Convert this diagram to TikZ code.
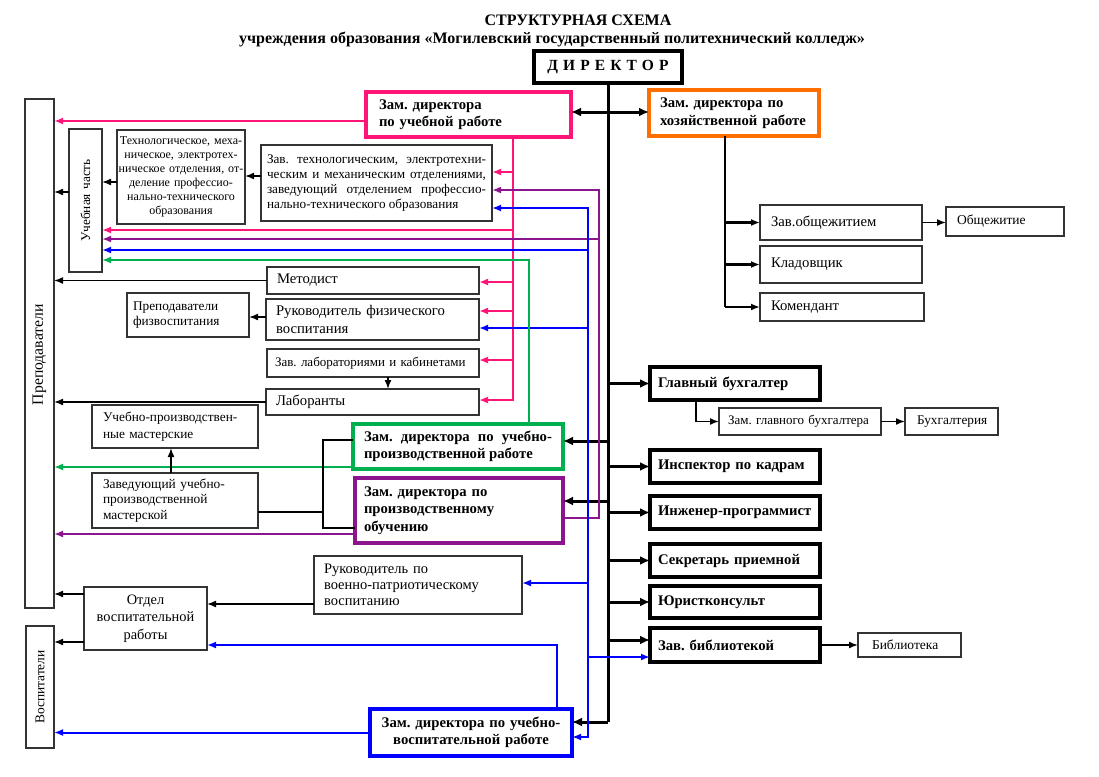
\documentclass[tikz,border=0pt]{standalone}
\usepackage{fontspec}
\setmainfont{Liberation Serif}
\usetikzlibrary{arrows.meta}

\newcommand{\fsz}[2]{\fontsize{#1}{#2}\selectfont}
\definecolor{pinkc}{RGB}{255,20,120}
\definecolor{orangec}{RGB}{255,110,0}
\definecolor{greenc}{RGB}{0,176,80}
\definecolor{purplec}{RGB}{140,20,140}
\definecolor{bluec}{RGB}{0,0,255}
\hyphenpenalty=10000
\exhyphenpenalty=10000

\begin{document}
\frenchspacing
\begin{tikzpicture}[
    x=1pt, y=-1pt,
    >={Latex[length=9pt, width=7pt]},
    % Styles
    unit/.style={ % ordinary box
        rectangle,
        draw=black!80,
        line width=1.3pt,
        anchor=north west,
        inner ysep=0pt,
        outer sep=0pt,
        align=left,
        font=\fsz{14.7}{17.5}
    },
    head/.style={ % deputy or service, bold frame
        unit,
        draw=black,
        line width=3.5pt,
        font=\bfseries\fsz{14.7}{17.5}
    },
    size/.style n args={3}{ % width, height, side padding
        minimum width=#1pt,
        minimum height=#2pt,
        inner xsep=#3pt,
        text width=#1pt-2*#3pt
    },
    link/.style={ % thin black connector
        line width=1.6pt
    },
    arrow/.style={
        link,
        ->
    },
    trunk/.style={ % thick connector from the director
        line width=3pt,
        -{Latex[length=10pt, width=9pt]}
    },
    colored/.style={
        line width=2pt,
        draw=#1,
        ->
    }
]
    \useasboundingbox (0,0) rectangle (1099,776);

    % Title
    \node[font=\bfseries\fsz{16}{19}] (title) at (578,20) {СТРУКТУРНАЯ СХЕМА};
    \node[font=\bfseries\fsz{16}{19}] (subtitle) at (552,40)
        {учреждения образования «Могилевский государственный политехнический колледж»};

    % Director and deputies
    \node[head, size={148}{32}{4}, align=center, font=\bfseries\fsz{15.5}{18}] (director) at (534,51)
        {\addfontfeature{LetterSpace=33}ДИРЕКТОР};
    \node[head, draw=pinkc, size={205}{45}{13}] (zamUch) at (366,92) {Зам. директора\\по учебной работе};
    \node[head, draw=orangec, size={170}{46}{11}] (zamHoz) at (649,90) {Зам. директора по\\хозяйственной работе};
    \node[head, draw=greenc, size={210}{45}{11}, align=justify] (zamUchPr) at (353,424)
        {Зам. директора по учебно-\linebreak производственной работе};
    \node[head, draw=purplec, size={208}{65}{9}] (zamPrOb) at (355,478) {Зам. директора по\\производственному\\обучению};
    \node[head, draw=bluec, size={202}{47}{4}, align=center] (zamVosp) at (370,709) {Зам. директора по учебно-\\воспитательной работе};

    % Services under the director
    \foreach \n/\y/\h/\t in {glavBuh/367/33/Главный бухгалтер, kadry/450/33/Инспектор по кадрам,
            programmer/496/33/Инженер-программист, sekretar/544/33/Секретарь приемной,
            yurist/586/32/Юристконсульт, bibZav/628/34/Зав. библиотекой} {
        \node[head, size={170}{\h}{8}] (\n) at (650,\y) {\t};
    }

    % Household part
    \node[unit, size={162}{35}{11}] (obshZav) at (760,205) {Зав.общежитием};
    \node[unit, size={118}{29}{11}, font=\fsz{13.5}{16}] (obsh) at (946,207) {Общежитие};
    \node[unit, size={162}{37}{11}] (klad) at (760,246) {Кладовщик};
    \node[unit, size={164}{28}{11}] (koment) at (760,293) {Комендант};
    \node[unit, size={162}{27}{9}, font=\fsz{13}{15}] (zamBuh) at (719,408) {Зам. главного бухгалтера};
    \node[unit, size={93}{27}{12}, font=\fsz{13.3}{16}] (buh) at (905,408) {Бухгалтерия};
    \node[unit, size={103}{24}{14}, font=\fsz{13.5}{16}] (bib) at (858,633) {Библиотека};

    % Teaching part
    \node[unit, rotate=90, size={509}{29}{10}, font=\fsz{15.7}{18}] (prep) at (25,608) {\hspace*{193pt}Преподаватели};
    \node[unit, rotate=90, size={122}{28}{4}, align=center, font=\fsz{13.4}{16}] (vosp) at (26,748) {Воспитатели};
    \node[unit, rotate=90, size={143}{33}{4}, align=center, font=\fsz{13.3}{16}] (uchChast) at (69,272) {Учебная часть};
    \node[unit, size={128}{94}{1.5}, align=center, font=\fsz{12}{14}] (otdel) at (117,130)
        {Технологическое, меха-\\ническое, электротех-\\ническое отделения, от-\\деление профессио-\\нально-технического\\образования};
    \node[unit, size={231}{76}{6}, align=justify, font=\fsz{13.2}{15}] (zavOtd) at (261,145)
        {Зав. технологическим, электротехни-\linebreak ческим и механическим отделениями,\linebreak
         заведующий отделением профессио-\linebreak нально-технического образования};
    \node[unit, size={212}{27}{10}] (metodist) at (267,267) {Методист};
    \node[unit, size={122}{44}{6}, font=\fsz{13.3}{15}] (prepFiz) at (127,293) {Преподаватели\\физвоспитания};
    \node[unit, size={213}{41}{10}] (rukFiz) at (266,299) {Руководитель физического\\воспитания};
    \node[unit, size={212}{28}{8}, font=\fsz{13}{15}] (zavLab) at (267,349) {Зав. лабораториями и кабинетами};
    \node[unit, size={213}{26}{10}] (laborant) at (266,389) {Лаборанты};
    \node[unit, size={166}{43}{11}, font=\fsz{13.3}{17}] (masterskie) at (92,405) {Учебно-производствен-\\ные мастерские};
    \node[unit, size={166}{55}{11}, font=\fsz{13.4}{15.5}] (zavMaster) at (92,473) {Заведующий учебно-\\производственной\\мастерской};
    \node[unit, size={208}{58}{10}, font=\fsz{14.5}{16}] (rukVoen) at (314,556) {Руководитель по\\военно-патриотическому\\воспитанию};
    \node[unit, size={123}{63}{3}, align=center, font=\fsz{14.4}{17.5}] (otdVosp) at (84,587) {Отдел\\воспитательной\\работы};

    % Trunk from the director
    \draw[trunk, -] (director.south) -- (608,722) coordinate (trunkEnd);
    \draw[trunk] (trunkEnd) -- (zamVosp.east |- trunkEnd);
    \draw[trunk, {Latex[length=10pt, width=9pt]}-{Latex[length=10pt, width=9pt]}] (zamUch.east |- 0,112) -- (zamHoz.west |- 0,112);
    \foreach \n in {glavBuh, kadry, programmer, sekretar, yurist}
        \draw[trunk] (\n.west -| trunkEnd) -- (\n.west);
    \draw[trunk] (608,640) -- (bibZav.west |- 0,640);
    \draw[trunk] (608,441) -- (zamUchPr.east |- 0,441);
    \draw[trunk] (608,501) -- (zamPrOb.east |- 0,501);

    % Household and accounting links
    \draw[link, line width=2.2pt] (zamHoz.south -| 725,0) -- (725,307) coordinate (hozEnd);
    \foreach \n in {obshZav, klad, koment}
        \draw[arrow, line width=2.2pt] (\n.west -| hozEnd) -- (\n.west);
    \draw[arrow] (obshZav.east) -- (obsh.west |- obshZav.east);
    \draw[arrow] (glavBuh.south -| 696,0) |- (zamBuh.west);
    \draw[arrow] (zamBuh.east) -- (buh.west);
    \draw[arrow] (bibZav.east) -- (bib.west);

    % Links of the deputy for teaching
    \draw[colored=pinkc] (zamUch.west |- 0,121) -- (prep.south |- 0,121);
    \draw[colored=pinkc] (zamUch.south -| 513,0) -- (513,400) -- (laborant.east |- 0,400);
    \foreach \n/\y in {zavOtd/172, metodist/282, rukFiz/311, zavLab/360}
        \draw[colored=pinkc] (513,\y) -- (\n.east |- 0,\y);
    \draw[colored=pinkc] (513,230) -- (uchChast.south |- 0,230);

    % Links of the deputy for practical training
    \draw[colored=purplec] (zamPrOb.east |- 0,518) -- (599,518) -- (599,190) -- (zavOtd.east |- 0,190);
    \draw[colored=purplec] (599,239) -- (uchChast.south |- 0,239);
    \draw[colored=purplec] (zamPrOb.west |- 0,534) -- (prep.south |- 0,534);

    % Links of the deputy for upbringing
    \draw[colored=bluec, <->] (zavOtd.east |- 0,208) -- (588,208) -- (588,737) -- (zamVosp.east |- 0,737);
    \foreach \n/\y in {uchChast.south/250, rukFiz.east/328, rukVoen.east/583, bibZav.west/657}
        \draw[colored=bluec] (588,\y) -- (\n |- 0,\y);
    \draw[colored=bluec] (zamVosp.north -| 557,0) -- (557,645) -- (otdVosp.east |- 0,645);
    \draw[colored=bluec] (zamVosp.west) -- (vosp.south |- zamVosp.west);

    % Links of the deputy for workshops
    \draw[colored=greenc] (zamUchPr.north -| 529,0) -- (529,260) -- (uchChast.south |- 0,260);
    \draw[colored=greenc] (zamUchPr.west |- 0,467) -- (prep.south |- 0,467);

    % Black links on the left
    \draw[arrow] (uchChast.north |- 0,192) -- (prep.south |- 0,192);
    \draw[arrow] (otdel.west |- 0,182) -- (uchChast.south |- 0,182);
    \draw[arrow] (zavOtd.west |- 0,176) -- (otdel.east |- 0,176);
    \draw[arrow] (metodist.west) -- (prep.south |- metodist.west);
    \draw[arrow] (rukFiz.west |- 0,317) -- (prepFiz.east |- 0,317);
    \draw[arrow] (zavLab.south -| 388,0) -- (laborant.north -| 388,0);
    \draw[arrow] (laborant.west) -- (prep.south |- laborant.west);
    \draw[arrow] (zavMaster.north -| 171,0) -- (masterskie.south -| 171,0);
    \draw[link] (zamUchPr.west |- 0,440) -- (323,440) -- (323,528) -- (zamPrOb.west |- 0,528);
    \draw[link] (zavMaster.east |- 0,512) -- (323,512);
    \draw[arrow] (rukVoen.west |- 0,604) -- (otdVosp.east |- 0,604);
    \draw[arrow] (otdVosp.west |- 0,594) -- (prep.south |- 0,594);
    \draw[arrow] (otdVosp.west |- 0,642) -- (vosp.south |- 0,642);

\end{tikzpicture}
\end{document}
